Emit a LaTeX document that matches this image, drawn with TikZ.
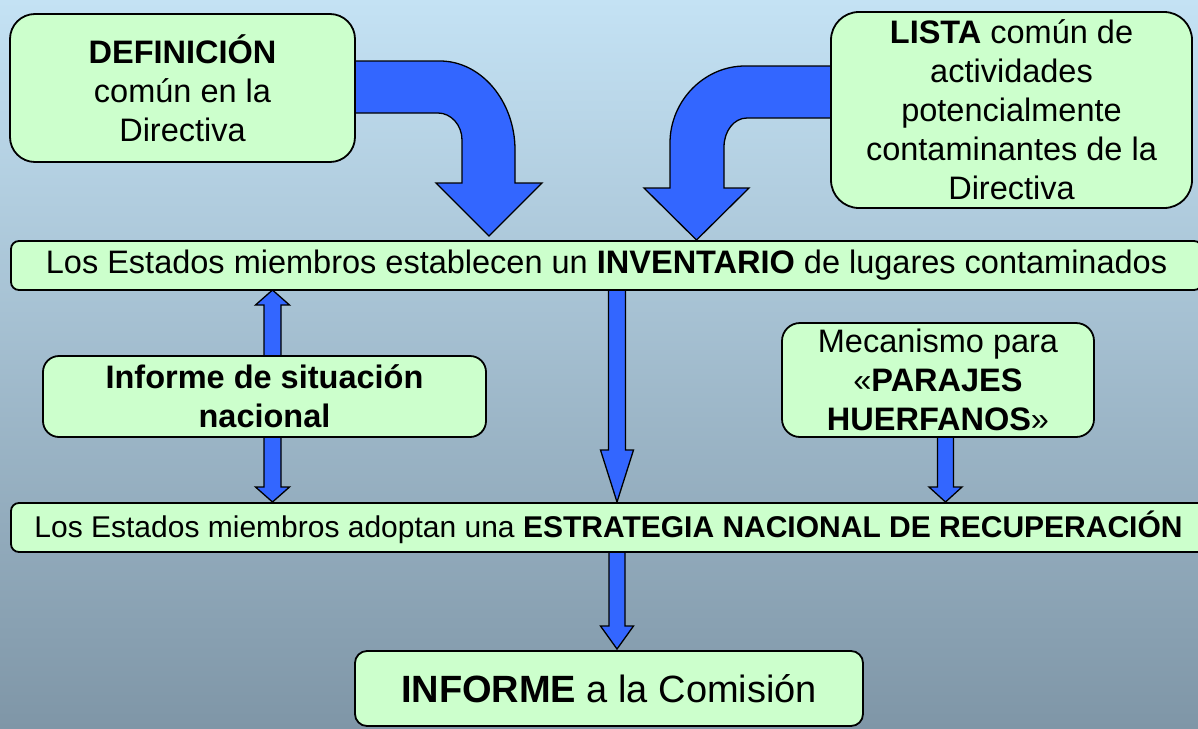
\documentclass[tikz,border=0pt]{standalone}
\usepackage{fontspec}
\setmainfont{Liberation Sans}
\definecolor{boxgreen}{HTML}{CCFFCC}
\definecolor{arrowblue}{HTML}{3366FF}
\definecolor{bgtop}{HTML}{C4E2F4}
\definecolor{bgbot}{HTML}{7F96A7}
\pgfdeclarelayer{bg}
\pgfdeclarelayer{arr}
\pgfsetlayers{bg,arr,main}
\begin{document}
\begin{tikzpicture}[x=1pt,y=-1pt,
  box/.style={draw=black, line width=1.8pt, fill=boxgreen, rounded corners=#1,
    inner sep=0pt, outer sep=0pt, align=center, text=black},
  box/.default=20pt,
  blk/.style={draw=black, line width=1.3pt, fill=arrowblue, line join=miter},
  txt/.style={font=\fontsize{32.5}{39}\selectfont}]
\begin{pgfonlayer}{bg}
\shade[top color=bgtop, bottom color=bgbot] (0,0) rectangle (1198,728);
\end{pgfonlayer}
\useasboundingbox (0,0) rectangle (1198,728);

\node[box=25pt, minimum width=345pt, minimum height=148pt, txt] (def) at (182.5,88)
  {\textbf{DEFINICIÓN}\\común en la\\Directiva};
\node[box=28pt, minimum width=361pt, minimum height=196pt, txt] (lista) at (1011.5,110)
  {\textbf{LISTA} común de\\actividades\\potencialmente\\contaminantes de la\\Directiva};
\node[box=8pt, minimum width=1191pt, minimum height=49pt, txt] (inv) at (606.5,265.5)
  {Los Estados miembros establecen un \textbf{INVENTARIO} de lugares contaminados};
\node[box=16pt, minimum width=443pt, minimum height=81pt, txt] (sit) at (264.5,396.5)
  {\textbf{Informe de situación}\\\textbf{nacional}};
\node[box=18pt, minimum width=312pt, minimum height=114pt, txt] (meca) at (938,380)
  {Mecanismo para\\«\textbf{PARAJES}\\\textbf{HUERFANOS}»};
\node[box=8pt, minimum width=1195pt, minimum height=49pt, font=\fontsize{30}{36}\selectfont] (estr) at (608.5,527.5)
  {Los Estados miembros adoptan una \textbf{ESTRATEGIA NACIONAL DE RECUPERACIÓN}};
\node[box=12pt, minimum width=508pt, minimum height=75pt, font=\fontsize{38}{46}\selectfont] (inf) at (609,688.5)
  {\textbf{INFORME} a la Comisión};

\begin{pgfonlayer}{arr}
% curved arrow from DEFINICION
\draw[blk] (345,61) -- (440,61) .. controls (481,61) and (515,101) .. (515,150)
  -- (515,183) -- (542,183) -- (489,236) -- (436,183) -- (462,183) -- (462,140)
  .. controls (462,125) and (451,113) .. (438,113) -- (345,113) -- cycle;
% curved arrow from LISTA
\draw[blk] (840,66) -- (745,66) .. controls (704,66) and (670,101) .. (670,143)
  -- (670,188) -- (644,188) -- (696.5,240) -- (749,188) -- (724,188) -- (724,147)
  .. controls (724,131) and (734,118) .. (747,118) -- (840,118) -- cycle;
% double arrow inventario <-> estrategia through informe de situacion
\draw[blk] (272.5,290) -- (289.5,305) -- (281,305) -- (281,487) -- (289.5,487)
  -- (272.5,502) -- (255.5,487) -- (264,487) -- (264,305) -- (255.5,305) -- cycle;
% inventario -> estrategia
\draw[blk] (608.5,286) -- (625.5,286) -- (625.5,450) -- (633.5,450) -- (617,502)
  -- (600.5,450) -- (608.5,450) -- cycle;
% parajes -> estrategia
\draw[blk] (937.5,433) -- (953.5,433) -- (953.5,487) -- (962,487) -- (945.5,502)
  -- (929,487) -- (937.5,487) -- cycle;
% estrategia -> informe
\draw[blk] (609,548) -- (625,548) -- (625,626) -- (633.5,626) -- (617,649)
  -- (600.5,626) -- (609,626) -- cycle;
\end{pgfonlayer}
\end{tikzpicture}
\end{document}
